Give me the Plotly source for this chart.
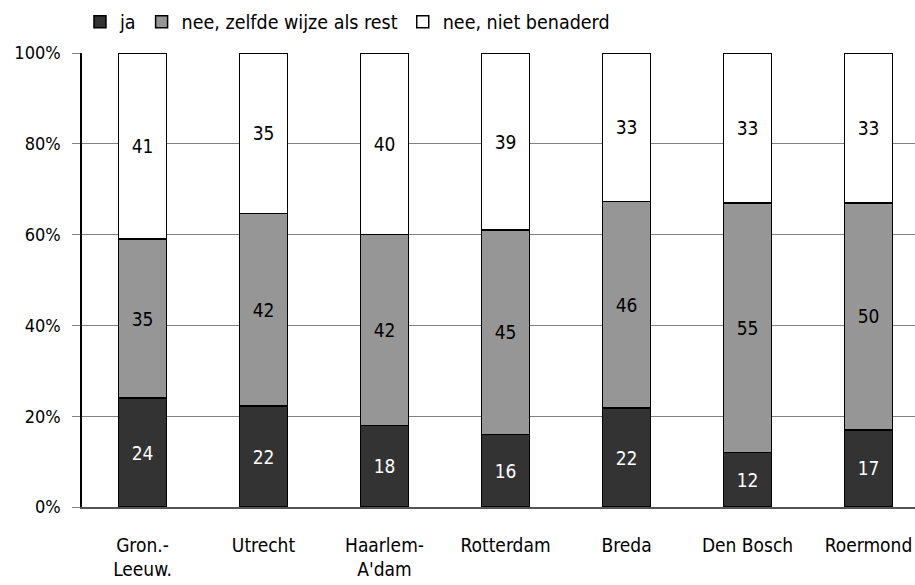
import plotly.graph_objects as go

categories = ["Gron.-<br>Leeuw.", "Utrecht", "Haarlem-<br>A'dam", "Rotterdam", "Breda", "Den Bosch", "Roermond"]
ja = [24, 22, 18, 16, 22, 12, 17]
nee_zelfde = [35, 42, 42, 45, 46, 55, 50]
nee_niet = [41, 35, 40, 39, 33, 33, 33]
y_ticks = [0, 20, 40, 60, 80, 100]

FONT = "Liberation Sans Narrow, DejaVu Sans Condensed, Arial Narrow, sans-serif"

series = [
    ("ja", ja, "#333333", "white"),
    ("nee, zelfde wijze als rest", nee_zelfde, "#969696", "black"),
    ("nee, niet benaderd", nee_niet, "#ffffff", "black"),
]

fig = go.Figure()
for name, vals, color, tcolor in series:
    fig.add_trace(go.Bar(
        x=categories, y=vals, name=name,
        marker=dict(color=color, line=dict(color="black", width=1.5)),
        text=[str(v) for v in vals], textposition="inside",
        insidetextanchor="middle", constraintext="none",
        textfont=dict(color=tcolor, size=19, family=FONT),
        width=0.4,
    ))

fig.update_layout(
    barmode="stack", barnorm="percent",
    width=915, height=585,
    margin=dict(l=82, r=0, t=53, b=78),
    paper_bgcolor="white", plot_bgcolor="white",
    font=dict(family=FONT, size=19, color="black"),
    showlegend=True,
    legend=dict(orientation="h", x=0.0874, y=0.9624, xanchor="left", yanchor="middle",
                xref="container", yref="container",
                font=dict(size=19.5, family=FONT), traceorder="normal",
                bgcolor="rgba(0,0,0,0)", itemclick=False),
    xaxis=dict(range=[-0.5, 6.384], showgrid=False, showline=True, linecolor="#555555",
               linewidth=1.5, ticks="", ticklabelstandoff=20, tickfont=dict(size=19)),
    yaxis=dict(range=[0, 100], tickvals=y_ticks, ticktext=[f"{v}%" for v in y_ticks],
               showgrid=True, gridcolor="#808080", gridwidth=1, showline=True,
               linecolor="black", linewidth=1.5, ticks="outside", ticklen=8,
               tickcolor="#808080", tickfont=dict(size=18), zeroline=False,
               ticklabelstandoff=8),
)

fig.write_html(
    "out.html",
    config={"displayModeBar": False},
    post_script="document.body.style.margin='0';document.body.style.overflow='hidden';",
)
